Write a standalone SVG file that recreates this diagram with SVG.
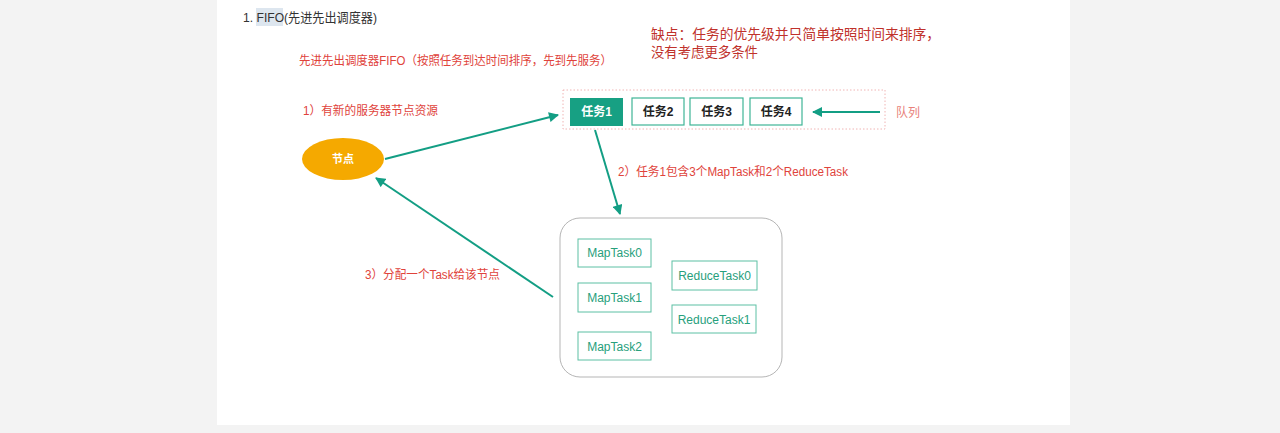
<svg xmlns="http://www.w3.org/2000/svg" width="1280" height="433" viewBox="0 0 1280 433">
<defs>
<style>
.t{font-family:"Liberation Sans","Noto Sans CJK SC",sans-serif}
.red{fill:#e0433b;font-size:12px}
.dark{fill:#c0312b;font-size:14px}
.box{fill:#fff;stroke:#3fb596;stroke-width:1.2}
.btxt{fill:#222;font-size:12px;font-weight:bold;text-anchor:middle}
.sub{fill:#fff;stroke:#5cc0a4;stroke-width:1}
.stxt{fill:#27a07c;font-size:12px;text-anchor:middle}
.con{stroke:#139e84;stroke-width:2;fill:none;marker-end:url(#ah)}
</style>
<marker id="ah" viewBox="0 0 10 10" refX="9" refY="5" markerWidth="5.5" markerHeight="5" orient="auto" markerUnits="strokeWidth">
<path d="M0,0 L10,5 L0,10 z" fill="#139e84"/>
</marker>
</defs>
<rect x="0" y="0" width="1280" height="433" fill="#f3f3f3"/>
<rect x="217" y="0" width="853" height="425" fill="#ffffff"/>
<g id="title">
<rect x="256" y="8" width="27" height="18" fill="#dde6ef"/>
<text class="t" x="243" y="22" font-size="13" fill="#333" textLength="134" lengthAdjust="spacingAndGlyphs">1. FIFO(先进先出调度器)</text>
</g>
<g id="labels">
<text class="t red" x="299" y="65" textLength="313" lengthAdjust="spacingAndGlyphs">先进先出调度器FIFO（按照任务到达时间排序，先到先服务）</text>
<text class="t dark" x="651" y="39" textLength="289" lengthAdjust="spacingAndGlyphs">缺点：任务的优先级并只简单按照时间来排序，</text>
<text class="t dark" x="651" y="57" textLength="107" lengthAdjust="spacingAndGlyphs">没有考虑更多条件</text>
<text class="t red" x="303" y="115" textLength="135" lengthAdjust="spacingAndGlyphs">1）有新的服务器节点资源</text>
<text class="t red" x="618" y="176" textLength="230" lengthAdjust="spacingAndGlyphs">2）任务1包含3个MapTask和2个ReduceTask</text>
<text class="t red" x="365" y="279" textLength="135" lengthAdjust="spacingAndGlyphs">3）分配一个Task给该节点</text>
<text class="t" x="896" y="117" font-size="12" fill="#e8817a">队列</text>
</g>
<g id="node">
<ellipse cx="343" cy="159" rx="41" ry="21" fill="#f5a900"/>
<text class="t" x="343" y="163" font-size="11" font-weight="bold" fill="#fff" text-anchor="middle">节点</text>
</g>
<g id="queue">
<rect x="563" y="90" width="322" height="39" fill="none" stroke="#f0b4b4" stroke-width="1" stroke-dasharray="1.5,2"/>
</g>
<g id="task1">
<rect x="570" y="98" width="53" height="28" fill="#17a083"/>
<text class="t" x="596.5" y="116" font-size="12" font-weight="bold" fill="#fff" text-anchor="middle">任务1</text>
</g>
<g id="task2">
<rect class="box" x="632" y="98" width="52" height="27"/>
<text class="t btxt" x="658" y="116">任务2</text>
</g>
<g id="task3">
<rect class="box" x="690" y="98" width="53" height="27"/>
<text class="t btxt" x="716.5" y="116">任务3</text>
</g>
<g id="task4">
<rect class="box" x="750" y="98" width="52" height="27"/>
<text class="t btxt" x="776" y="116">任务4</text>
</g>
<g id="container">
<rect x="560" y="218" width="222" height="159" rx="20" fill="#fff" stroke="#b5b5b5" stroke-width="1"/>
</g>
<g id="map0">
<rect class="sub" x="578" y="239" width="73" height="28"/>
<text class="t stxt" x="614.5" y="257">MapTask0</text>
</g>
<g id="map1">
<rect class="sub" x="578" y="283" width="73" height="29"/>
<text class="t stxt" x="614.5" y="302">MapTask1</text>
</g>
<g id="map2">
<rect class="sub" x="578" y="332" width="73" height="28"/>
<text class="t stxt" x="614.5" y="351">MapTask2</text>
</g>
<g id="reduce0">
<rect class="sub" x="672" y="261" width="85" height="29"/>
<text class="t stxt" x="714.5" y="280">ReduceTask0</text>
</g>
<g id="reduce1">
<rect class="sub" x="672" y="305" width="84" height="28"/>
<text class="t stxt" x="714" y="324">ReduceTask1</text>
</g>
<g id="connectors">
<line class="con" x1="385" y1="159" x2="558" y2="115"/>
<line class="con" x1="880" y1="112" x2="813" y2="112"/>
<line class="con" x1="595" y1="130" x2="620" y2="214"/>
<line class="con" x1="553" y1="297" x2="376" y2="178"/>
</g>
</svg>
